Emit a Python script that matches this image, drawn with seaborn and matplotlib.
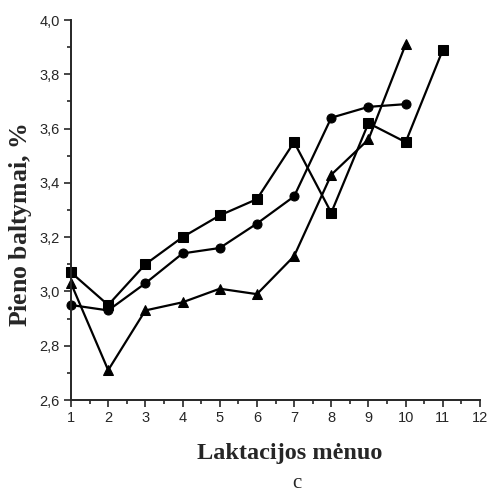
import matplotlib
matplotlib.use("Agg")
import matplotlib.pyplot as plt
import seaborn as sns
import pandas as pd
from matplotlib.ticker import MultipleLocator, FuncFormatter

months_sq = [1, 2, 3, 4, 5, 6, 7, 8, 9, 10, 11]
vals_sq = [3.07, 2.95, 3.10, 3.20, 3.28, 3.34, 3.55, 3.29, 3.62, 3.55, 3.89]
months_ci = [1, 2, 3, 4, 5, 6, 7, 8, 9, 10]
vals_ci = [2.95, 2.93, 3.03, 3.14, 3.16, 3.25, 3.35, 3.64, 3.68, 3.69]
months_tr = [1, 2, 3, 4, 5, 6, 7, 8, 9, 10]
vals_tr = [3.03, 2.71, 2.93, 2.96, 3.01, 2.99, 3.13, 3.43, 3.56, 3.91]

sns.set_style("ticks")
plt.rcParams['font.family'] = ['Liberation Sans', 'DejaVu Sans']
plt.rcParams['mathtext.fontset'] = 'custom'
plt.rcParams['mathtext.it'] = 'Liberation Serif:italic:bold'
plt.rcParams['mathtext.rm'] = 'Liberation Serif:bold'

fig = plt.figure(figsize=(4.88, 4.95), dpi=100)
ax = fig.add_axes([71/488, 1-400/495, (480-71)/488, (400-20)/495])

for xs, ys, m, ms in [(months_sq, vals_sq, 's', 6.5), (months_ci, vals_ci, 'o', 6.5), (months_tr, vals_tr, '^', 7.5)]:
    df = pd.DataFrame({'x': xs, 'y': ys})
    sns.lineplot(data=df, x='x', y='y', ax=ax, color='black', marker=m, markersize=ms,
                 markeredgecolor='black', markerfacecolor='black', linewidth=1.6, clip_on=False)

ax.set_xlim(1, 12)
ax.set_ylim(2.6, 4.0)
ax.xaxis.set_major_locator(MultipleLocator(1))
ax.xaxis.set_minor_locator(MultipleLocator(0.5))
ax.yaxis.set_major_locator(MultipleLocator(0.2))
ax.yaxis.set_minor_locator(MultipleLocator(0.1))
ax.yaxis.set_major_formatter(FuncFormatter(lambda v, p: f"{v:.1f}".replace('.', ',')))
ax.xaxis.set_major_formatter(FuncFormatter(lambda v, p: f"{int(round(v))}"))
ax.tick_params(which='major', direction='out', length=5, width=1.2, labelsize=10.5, pad=3)
ax.tick_params(which='minor', direction='out', length=3, width=1.2)
for s in ['left', 'bottom']:
    ax.spines[s].set_linewidth(1.4)
sns.despine(ax=ax)

ax.set_xlabel('')
ax.set_ylabel('')
fig.text(290/488, 1-453/495, 'Laktacijos mėnuo', ha='center', va='center',
         fontsize=17.5, fontweight='bold', family=['Liberation Serif'])
fig.text(21/488, 1-225/495, r'Pieno baltymai, $\mathit{\%}$', ha='center', va='center', rotation=90,
         fontsize=18.5, fontweight='bold', family=['Liberation Serif'])
fig.text(297/488, 1-484/495, 'c', ha='center', va='center', fontsize=15, family=['Liberation Serif'])

fig.savefig('out.png', dpi=100)
